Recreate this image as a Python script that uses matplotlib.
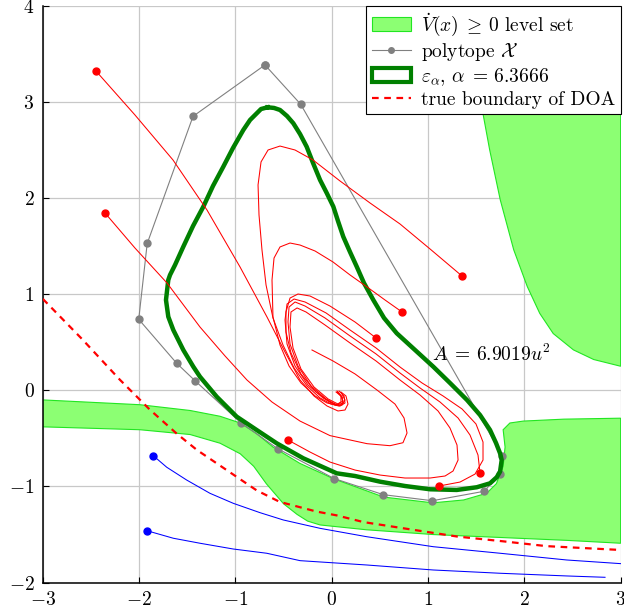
import numpy as np
import matplotlib.pyplot as plt
from matplotlib.patches import Patch
from matplotlib.lines import Line2D

plt.rcParams['font.family'] = 'serif'
plt.rcParams['font.serif'] = ['cmr10']
plt.rcParams['mathtext.fontset'] = 'cm'
plt.rcParams['axes.formatter.use_mathtext'] = True
plt.rcParams['font.size'] = 14

# region where dV/dt >= 0 (upper right lobe)
lobe_x = [1.51, 1.57, 1.64, 1.75, 1.89, 2.03, 2.16, 2.30, 2.51, 2.72, 3.0, 3.0]
lobe_y = [4.0, 2.88, 2.50, 1.98, 1.46, 1.08, 0.80, 0.59, 0.42, 0.32, 0.25, 4.0]

# region where dV/dt >= 0 (lower band), upper edge then lower edge
band_top_x = [-3.0, -1.99, -1.47, -1.16, -0.95, -0.78, -0.61, -0.33, 0.02, 0.54,
              1.05, 1.37, 1.61, 1.71, 1.78, 1.80, 1.78, 1.85, 1.99, 2.41, 3.0]
band_top_y = [-0.10, -0.15, -0.21, -0.27, -0.34, -0.45, -0.59, -0.76, -0.92, -1.11,
              -1.17, -1.14, -1.07, -0.97, -0.79, -0.59, -0.41, -0.34, -0.32, -0.30, -0.29]
band_bot_x = [3.0, 2.44, 1.75, 1.06, 0.36, -0.12, -0.25, -0.36, -0.50, -0.68, -0.81,
              -0.95, -1.16, -1.47, -1.99, -3.0]
band_bot_y = [-1.59, -1.56, -1.53, -1.50, -1.45, -1.40, -1.36, -1.29, -1.18, -0.97, -0.79,
              -0.66, -0.55, -0.46, -0.41, -0.38]

# polytope vertices (closed)
poly_x = [-0.693, -1.440, -1.916, -2.004, -1.610, -1.420, -0.945, -0.561, 0.024,
          0.536, 1.045, 1.582, 1.748, 1.772, -0.322, -0.693]
poly_y = [3.382, 2.848, 1.526, 0.738, 0.281, 0.100, -0.337, -0.607, -0.917,
          -1.085, -1.148, -1.050, -0.870, -0.680, 2.973, 3.382]

# ellipsoid level set boundary
ell_x = [-0.665, -0.599, -0.537, -0.464, -0.399, -0.329, -0.260, -0.194, -0.121,
         -0.052, 0.017, 0.065, 0.120, 0.190, 0.260, 0.335, 0.432, 0.543, 0.675,
         0.865, 1.055, 1.228, 1.405, 1.540, 1.644, 1.706, 1.748, 1.765, 1.748,
         1.713, 1.644, 1.506, 1.298, 1.021, 0.761, 0.502, 0.242, 0.052, -0.295,
         -0.571, -0.779, -0.987, -1.194, -1.368, -1.437, -1.541, -1.645, -1.697,
         -1.721, -1.697, -1.679, -1.627, -1.541, -1.440, -1.333, -1.233, -1.126,
         -1.025, -0.918, -0.848, -0.779, -0.734, -0.665]
ell_y = [2.942, 2.935, 2.914, 2.851, 2.776, 2.664, 2.532, 2.363, 2.186,
         2.051, 1.909, 1.760, 1.597, 1.438, 1.285, 1.115, 0.939, 0.752, 0.593,
         0.419, 0.245, 0.076, -0.101, -0.257, -0.413, -0.548, -0.655, -0.725, -0.846,
         -0.904, -0.967, -1.008, -1.036, -1.029, -0.995, -0.950, -0.891, -0.863, -0.707,
         -0.551, -0.413, -0.274, -0.067, 0.141, 0.245, 0.419, 0.627, 0.765,
         0.939, 1.147, 1.199, 1.303, 1.493, 1.708, 1.909, 2.124, 2.324,
         2.519, 2.706, 2.810, 2.879, 2.924, 2.942]

# true boundary of the domain of attraction
doa_x = [-3.0, -2.59, -2.20, -1.89, -1.61, -1.40, -1.09, -0.78, -0.54, -0.16, 0.05,
         0.33, 0.78, 1.30, 1.78, 2.23, 3.0]
doa_y = [0.95, 0.53, 0.11, -0.20, -0.45, -0.62, -0.83, -1.04, -1.16, -1.26, -1.30,
         -1.37, -1.44, -1.52, -1.57, -1.62, -1.66]

# converging trajectories (first point = initial state)
t1_x = [-2.448, -2.043, -1.648, -1.295, -0.952, -0.672, -0.485, -0.329, -0.184,
        -0.049, 0.065, 0.138, 0.169, 0.148, 0.096]
t1_y = [3.319, 2.862, 2.394, 1.874, 1.282, 0.762, 0.398, 0.107, -0.059,
        -0.163, -0.215, -0.205, -0.143, -0.059, -0.018]
t2_x = [-2.354, -2.043, -1.710, -1.368, -1.108, -0.880, -0.620, -0.329, -0.018,
        0.367, 0.605, 0.740, 0.782, 0.751, 0.657, 0.470, 0.242, 0.013, -0.205]
t2_y = [1.843, 1.479, 1.115, 0.658, 0.357, 0.107, -0.122, -0.320, -0.471,
        -0.555, -0.576, -0.545, -0.444, -0.288, -0.143, 0.003, 0.170, 0.305, 0.419]
t3_x = [1.353, 1.021, 0.709, 0.398, 0.086, -0.194, -0.381, -0.537, -0.661, -0.734,
        -0.765, -0.755, -0.724, -0.682, -0.610, -0.506, -0.391, -0.256, -0.121,
        -0.007, 0.076, 0.117, 0.107, 0.065]
t3_y = [1.188, 1.469, 1.729, 1.947, 2.176, 2.394, 2.498, 2.539, 2.498, 2.374,
        2.135, 1.823, 1.458, 1.095, 0.752, 0.471, 0.232, 0.045, -0.080,
        -0.143, -0.164, -0.132, -0.070, -0.018]
t4_x = [0.730, 0.553, 0.367, 0.190, 0.013, -0.173, -0.329, -0.433, -0.537, -0.599,
        -0.620, -0.610, -0.537, -0.443, -0.319, -0.173, -0.049, 0.045, 0.096, 0.096,
        0.055]
t4_y = [0.814, 0.939, 1.074, 1.199, 1.334, 1.448, 1.510, 1.531, 1.490, 1.375,
        1.147, 0.762, 0.471, 0.252, 0.076, -0.059, -0.132, -0.153, -0.122, -0.059,
        -0.007]
t5_x = [0.460, 0.242, -0.018, -0.225, -0.350, -0.433, -0.475, -0.475, -0.423,
        -0.319, -0.163, -0.018, 0.086, 0.138, 0.128, 0.076]
t5_y = [0.544, 0.710, 0.876, 0.980, 1.001, 0.959, 0.814, 0.606, 0.388,
        0.169, -0.018, -0.122, -0.164, -0.132, -0.059, -0.007]
t6_x = [-0.454, -0.225, -0.018, 0.242, 0.502, 0.761, 1.021, 1.177, 1.260, 1.312,
        1.301, 1.228, 1.104, 0.917, 0.709, 0.460, 0.190, -0.070, -0.267, -0.360,
        -0.423, -0.433, -0.402, -0.319, -0.184, -0.038, 0.065, 0.117, 0.096, 0.045]
t6_y = [-0.517, -0.642, -0.746, -0.829, -0.881, -0.912, -0.912, -0.891, -0.839, -0.725,
        -0.569, -0.392, -0.215, -0.049, 0.107, 0.305, 0.492, 0.679, 0.814, 0.856,
        0.814, 0.658, 0.440, 0.221, 0.034, -0.090, -0.143, -0.111, -0.059, -0.018]
t7_x = [1.540, 1.519, 1.436, 1.312, 1.125, 0.917, 0.709, 0.460, 0.190, -0.070,
        -0.277, -0.381, -0.443, -0.454, -0.433, -0.350, -0.215, -0.059, 0.055,
        0.117, 0.107, 0.055]
t7_y = [-0.860, -0.673, -0.465, -0.288, -0.122, 0.024, 0.180, 0.378, 0.565, 0.752,
        0.876, 0.918, 0.866, 0.710, 0.481, 0.252, 0.045, -0.090, -0.153,
        -0.132, -0.070, -0.018]
t8_x = [1.114, 1.332, 1.488, 1.571, 1.571, 1.498, 1.353, 1.156, 0.938, 0.709,
        0.460, 0.190, -0.059, -0.277, -0.391, -0.464, -0.485, -0.464, -0.381,
        -0.246, -0.090, 0.034, 0.107, 0.138, 0.107]
t8_y = [-0.995, -0.954, -0.871, -0.725, -0.538, -0.350, -0.194, -0.059, 0.076, 0.242,
        0.440, 0.627, 0.804, 0.918, 0.949, 0.897, 0.731, 0.481, 0.252,
        0.055, -0.080, -0.153, -0.153, -0.101, -0.038]
red_traj = [(t1_x, t1_y), (t2_x, t2_y), (t3_x, t3_y), (t4_x, t4_y),
            (t5_x, t5_y), (t6_x, t6_y), (t7_x, t7_y), (t8_x, t8_y)]

# diverging trajectories
b1_x = [-1.853, -1.713, -1.506, -1.264, -1.022, -0.745, -0.503, -0.121, 0.363,
        1.055, 1.748, 2.440, 3.0]
b1_y = [-0.680, -0.800, -0.933, -1.071, -1.175, -1.272, -1.348, -1.435, -1.522,
        -1.626, -1.694, -1.764, -1.802]
b2_x = [-1.921, -1.645, -1.368, -1.022, -0.675, -0.329, 0.363, 1.055, 1.748,
        2.440, 2.838]
b2_y = [-1.459, -1.538, -1.590, -1.650, -1.694, -1.771, -1.816, -1.868, -1.902,
        -1.930, -1.944]
blue_traj = [(b1_x, b1_y), (b2_x, b2_y)]

fig = plt.figure(figsize=(6.24, 6.12), dpi=100)
ax = fig.add_axes([0.0686, 0.0479, 0.926, 0.9431])

fill_c = '#8cff73'
edge_c = '#22e622'
ax.fill(lobe_x, lobe_y, facecolor=fill_c, edgecolor=edge_c, lw=0.8, zorder=2)
ax.fill(band_top_x + band_bot_x, band_top_y + band_bot_y, facecolor=fill_c,
        edgecolor=edge_c, lw=0.8, zorder=2)

ax.plot(poly_x, poly_y, '-o', color='gray', lw=0.8, ms=5, zorder=3)
ax.plot(ell_x, ell_y, color='green', lw=3.2, zorder=4, solid_joinstyle='round')
ax.plot(doa_x, doa_y, '--', color='red', lw=1.6, dashes=(3, 2.5), zorder=5)

for tx, ty in red_traj:
    ax.plot(tx, ty, color='red', lw=0.75, zorder=5, solid_joinstyle='round')
    ax.plot(tx[0], ty[0], 'o', color='red', ms=5, zorder=6)
for tx, ty in blue_traj:
    ax.plot(tx, ty, color='blue', lw=0.75, zorder=5, solid_joinstyle='round')
    ax.plot(tx[0], ty[0], 'o', color='blue', ms=5, zorder=6)

ax.text(1.655, 0.37, r'$A\;=\,6.9019u^2$', ha='center', va='center', zorder=7)

ax.set_xlim(-3, 3)
ax.set_ylim(-2, 4)
ax.set_xticks(range(-3, 4))
ax.set_yticks(range(-2, 5))
ax.grid(True, color='#c8c8c8', lw=0.9)
ax.set_axisbelow(True)
ax.spines['top'].set_visible(False)
ax.spines['right'].set_visible(False)
ax.spines['left'].set_linewidth(1.1)
ax.spines['bottom'].set_linewidth(1.1)
ax.tick_params(direction='in', length=4, width=0.8, pad=6)

handles = [
    Patch(facecolor=fill_c, edgecolor=edge_c, lw=0.8),
    Line2D([], [], color='gray', lw=0.8, marker='o', ms=4),
    Patch(facecolor='white', edgecolor='green', lw=3),
    Line2D([], [], color='red', ls='--', lw=1.6, dashes=(3, 2.5)),
]
labels = [r'$\dot{V}(x)\;\geq\,0$ level set', r'polytope $\mathcal{X}$',
          r'$\varepsilon_\alpha$, $\alpha\;=\,6.3666$', 'true boundary of DOA']
leg = ax.legend(handles, labels, loc='upper right', fancybox=False, framealpha=1,
                edgecolor='black', borderpad=0.3, labelspacing=0.15,
                handlelength=2.0, handletextpad=0.5, borderaxespad=0.0)
leg.get_frame().set_linewidth(0.8)
leg.set_zorder(10)

fig.savefig('out.png', dpi=100)
